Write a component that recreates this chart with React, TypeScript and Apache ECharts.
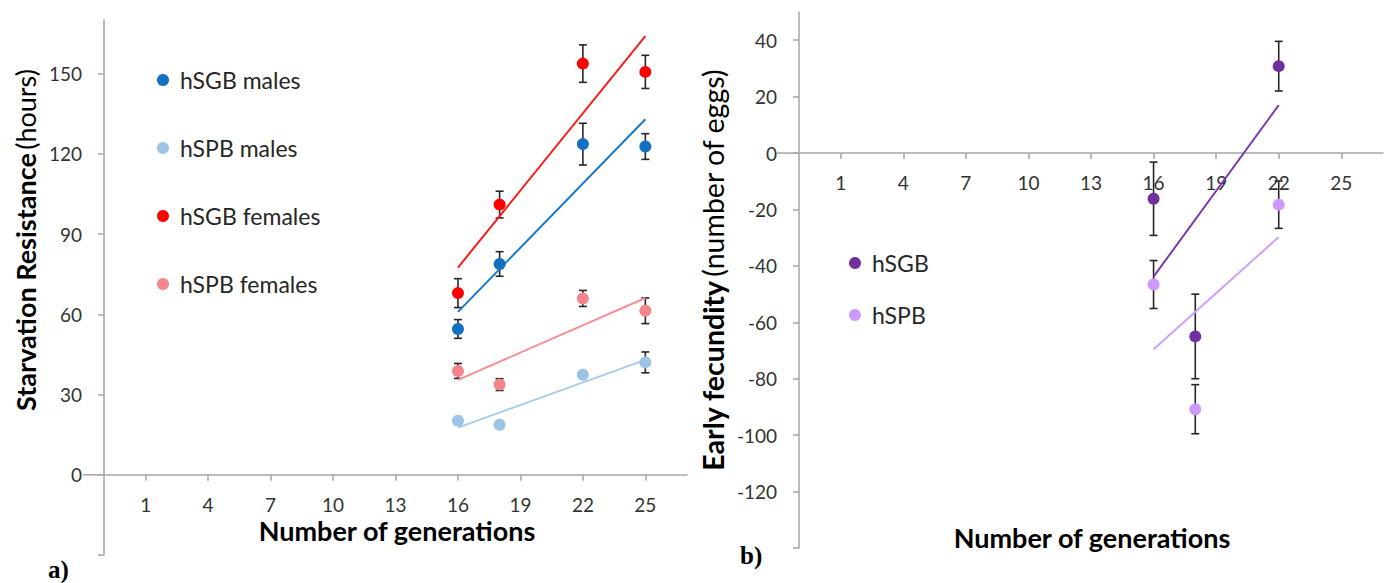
import React, { useEffect, useRef } from 'react';
import * as echarts from 'echarts';

// Panel a: starvation resistance by generation
const generations = [16, 18, 22, 25];
const xTickValues = [1, 4, 7, 10, 13, 16, 19, 22, 25];
const starvationTicks = [0, 30, 60, 90, 120, 150];
const starvationTickMarks = [-30, 0, 30, 60, 90, 120, 150];

const sgbMales = [54.5, 78.8, 123.6, 122.7];
const sgbMalesErr = [3.5, 4.6, 7.8, 4.8];
const spbMales = [20.2, 18.7, 37.4, 42.0];
const spbMalesErr = [1.2, 1.0, 1.2, 3.9];
const sgbFemales = [67.9, 101.0, 153.7, 150.6];
const sgbFemalesErr = [5.4, 5.0, 7.0, 6.2];
const spbFemales = [38.8, 33.7, 65.9, 61.3];
const spbFemalesErr = [2.8, 2.2, 3.0, 4.8];

// Panel b: early fecundity by generation
const fecundityGenerations = [16, 18, 22];
const fecundityTicks = [-120, -100, -80, -60, -40, -20, 0, 20, 40];
const fecundityTickMarks = [-140, -120, -100, -80, -60, -40, -20, 0, 20, 40];
const sgbFecundity = [-16.2, -65.0, 30.8];
const sgbFecundityErr = [13.0, 15.0, 8.8];
const spbFecundity = [-46.6, -90.8, -18.3];
const spbFecundityErr = [8.5, 8.7, 8.4];

const FONT = 'Lato, "Open Sans", sans-serif';

const gridA = { left: 104, top: 20, width: 583, height: 535 };
const gridB = { left: 799, top: 12, width: 584, height: 536 };
const rangeA = [-30, 170];
const rangeB = [-140, 50];

// least-squares trend line spanning the observed generations
function trend(xs: number[], ys: number[]) {
  const n = xs.length;
  const mx = xs.reduce((a, b) => a + b, 0) / n;
  const my = ys.reduce((a, b) => a + b, 0) / n;
  let sxy = 0, sxx = 0;
  for (let i = 0; i < n; i++) {
    sxy += (xs[i] - mx) * (ys[i] - my);
    sxx += (xs[i] - mx) * (xs[i] - mx);
  }
  const slope = sxy / sxx;
  const x0 = Math.min(...xs), x1 = Math.max(...xs);
  return [[x0, my + slope * (x0 - mx)], [x1, my + slope * (x1 - mx)]];
}

function errorBars(name: string, xs: number[], ys: number[], errs: number[], gridIdx: number) {
  return {
    type: 'custom',
    name: name + ' error',
    xAxisIndex: gridIdx,
    yAxisIndex: gridIdx,
    z: 2,
    encode: { x: 0, y: [1, 2] },
    data: xs.map((x, i) => [x, ys[i] - errs[i], ys[i] + errs[i]]),
    renderItem: (_params: any, api: any) => {
      const x = api.value(0);
      const lo = api.coord([x, api.value(1)]);
      const hi = api.coord([x, api.value(2)]);
      const w = 4;
      const style = { stroke: '#262626', lineWidth: 1.6 };
      return {
        type: 'group',
        children: [
          { type: 'line', shape: { x1: hi[0], y1: hi[1], x2: lo[0], y2: lo[1] }, style },
          { type: 'line', shape: { x1: hi[0] - w, y1: hi[1], x2: hi[0] + w, y2: hi[1] }, style },
          { type: 'line', shape: { x1: lo[0] - w, y1: lo[1], x2: lo[0] + w, y2: lo[1] }, style },
        ],
      };
    },
  };
}

function group(name: string, xs: number[], ys: number[], errs: number[], color: string, lineColor: string, gridIdx: number) {
  return [
    errorBars(name, xs, ys, errs, gridIdx),
    {
      type: 'line',
      name: name + ' trend',
      xAxisIndex: gridIdx,
      yAxisIndex: gridIdx,
      z: 3,
      showSymbol: false,
      symbol: 'none',
      lineStyle: { color: lineColor, width: 2 },
      data: trend(xs, ys),
    },
    {
      type: 'scatter',
      name,
      xAxisIndex: gridIdx,
      yAxisIndex: gridIdx,
      z: 4,
      symbol: 'circle',
      symbolSize: 12,
      itemStyle: { color, opacity: 1 },
      data: xs.map((x, i) => [x, ys[i]]),
    },
  ];
}

const axisLineStyle = { color: '#a6a6a6', width: 1.5 };
const labelStyle = { fontFamily: FONT, fontSize: 19, color: '#333' };

// x axis drawn through y = 0 of its grid
function xAxis(gridIndex: number, grid: any, range: number[]) {
  const zeroFromBottom = (grid.height * (0 - range[0])) / (range[1] - range[0]);
  return {
    type: 'value',
    gridIndex,
    min: -1,
    max: 27,
    offset: -zeroFromBottom,
    axisLine: { show: true, onZero: false, lineStyle: axisLineStyle },
    axisTick: { show: true, length: 6, customValues: xTickValues, lineStyle: axisLineStyle },
    axisLabel: { ...labelStyle, margin: 20, customValues: xTickValues },
    splitLine: { show: false },
  };
}

function yAxis(gridIndex: number, range: number[], labels: number[], marks: number[]) {
  return {
    type: 'value',
    gridIndex,
    min: range[0],
    max: range[1],
    axisLine: { show: true, onZero: false, lineStyle: axisLineStyle },
    axisTick: { show: true, length: 6, customValues: marks, lineStyle: axisLineStyle },
    axisLabel: { ...labelStyle, margin: 22, customValues: labels },
    splitLine: { show: false },
  };
}

export default function App() {
  const ref = useRef<HTMLDivElement>(null);

  useEffect(() => {
    if (!ref.current) return;
    const chart = echarts.init(ref.current, null, { renderer: 'svg' });

    const legendText = { fontFamily: FONT, fontSize: 23, color: '#262626', lineHeight: 26, padding: [0, 0, 0, 6] };

    chart.setOption({
      animation: false,
      backgroundColor: '#ffffff',
      grid: [
        { ...gridA, outerBoundsMode: 'none', containLabel: false },
        { ...gridB, outerBoundsMode: 'none', containLabel: false },
      ],
      xAxis: [xAxis(0, gridA, rangeA), xAxis(1, gridB, rangeB)],
      yAxis: [
        yAxis(0, rangeA, starvationTicks, starvationTickMarks),
        yAxis(1, rangeB, fecundityTicks, fecundityTickMarks),
      ],
      legend: [
        {
          data: ['hSGB males', 'hSPB males', 'hSGB females', 'hSPB females'],
          orient: 'vertical',
          left: 157,
          top: 67,
          padding: 0,
          itemGap: 42,
          icon: 'circle',
          itemWidth: 12,
          itemHeight: 12,
          textStyle: legendText,
          selectedMode: false,
        },
        {
          data: ['hSGB', 'hSPB'],
          orient: 'vertical',
          left: 849,
          top: 250,
          padding: 0,
          itemGap: 26,
          icon: 'circle',
          itemWidth: 12,
          itemHeight: 12,
          textStyle: legendText,
          selectedMode: false,
        },
      ],
      series: [
        ...group('hSGB males', generations, sgbMales, sgbMalesErr, '#1170c0', '#1a78c8', 0),
        ...group('hSPB males', generations, spbMales, spbMalesErr, '#9dc3e6', '#a9cbea', 0),
        ...group('hSGB females', generations, sgbFemales, sgbFemalesErr, '#ff0000', '#ff1a1a', 0),
        ...group('hSPB females', generations, spbFemales, spbFemalesErr, '#f4858a', '#f79096', 0),
        ...group('hSGB', fecundityGenerations, sgbFecundity, sgbFecundityErr, '#7030a0', '#7a3aaa', 1),
        ...group('hSPB', fecundityGenerations, spbFecundity, spbFecundityErr, '#cc99ff', '#cfa0ff', 1),
      ],
    });

    const zeroA = chart.convertToPixel({ gridIndex: 0 }, [-1, 0]) as number[];
    const zeroB = chart.convertToPixel({ gridIndex: 1 }, [-1, 0]) as number[];
    const lineStyle = { stroke: '#a6a6a6', lineWidth: 1.5 };
    const titleFont = { fontFamily: FONT, fontSize: 27 };
    const titleFontB = { fontFamily: FONT, fontSize: 28.5 };

    chart.setOption({
      graphic: [
        { type: 'line', shape: { x1: zeroA[0] - 21, y1: zeroA[1], x2: zeroA[0], y2: zeroA[1] }, style: lineStyle },
        { type: 'line', shape: { x1: zeroB[0] - 22, y1: zeroB[1], x2: zeroB[0], y2: zeroB[1] }, style: lineStyle },
        {
          type: 'text', x: 397, y: 530,
          style: { text: 'Number of generations', ...titleFont, fontWeight: 'bold', fill: '#000', align: 'center', verticalAlign: 'middle' },
        },
        {
          type: 'text', x: 1092, y: 537,
          style: { text: 'Number of generations', ...titleFont, fontWeight: 'bold', fill: '#000', align: 'center', verticalAlign: 'middle' },
        },
        {
          type: 'text', x: 25, y: 240, rotation: Math.PI / 2,
          style: {
            text: '{b|Starvation Resistance} {n|(hours)}',
            align: 'center', verticalAlign: 'middle', fill: '#000',
            rich: {
              b: { ...titleFont, fontWeight: 'bold', fill: '#000' },
              n: { ...titleFont, fontWeight: 'normal', fill: '#000' },
            },
          },
        },
        {
          type: 'text', x: 713, y: 270, rotation: Math.PI / 2,
          style: {
            text: '{b|Early fecundity} {n|(number of eggs)}',
            align: 'center', verticalAlign: 'middle', fill: '#000',
            rich: {
              b: { ...titleFontB, fontWeight: 'bold', fill: '#000' },
              n: { ...titleFontB, fontWeight: 'normal', fill: '#000' },
            },
          },
        },
        {
          type: 'text', x: 48, y: 569,
          style: { text: 'a)', fontFamily: '"Liberation Serif", serif', fontSize: 25, fontWeight: 'bold', fill: '#000', verticalAlign: 'middle' },
        },
        {
          type: 'text', x: 740, y: 555,
          style: { text: 'b)', fontFamily: '"Liberation Serif", serif', fontSize: 25, fontWeight: 'bold', fill: '#000', verticalAlign: 'middle' },
        },
      ],
    });

    return () => chart.dispose();
  }, []);

  return (
    <div
      ref={ref}
      style={{ position: 'fixed', left: 0, top: 0, width: 1394, height: 583, background: '#fff' }}
    />
  );
}
